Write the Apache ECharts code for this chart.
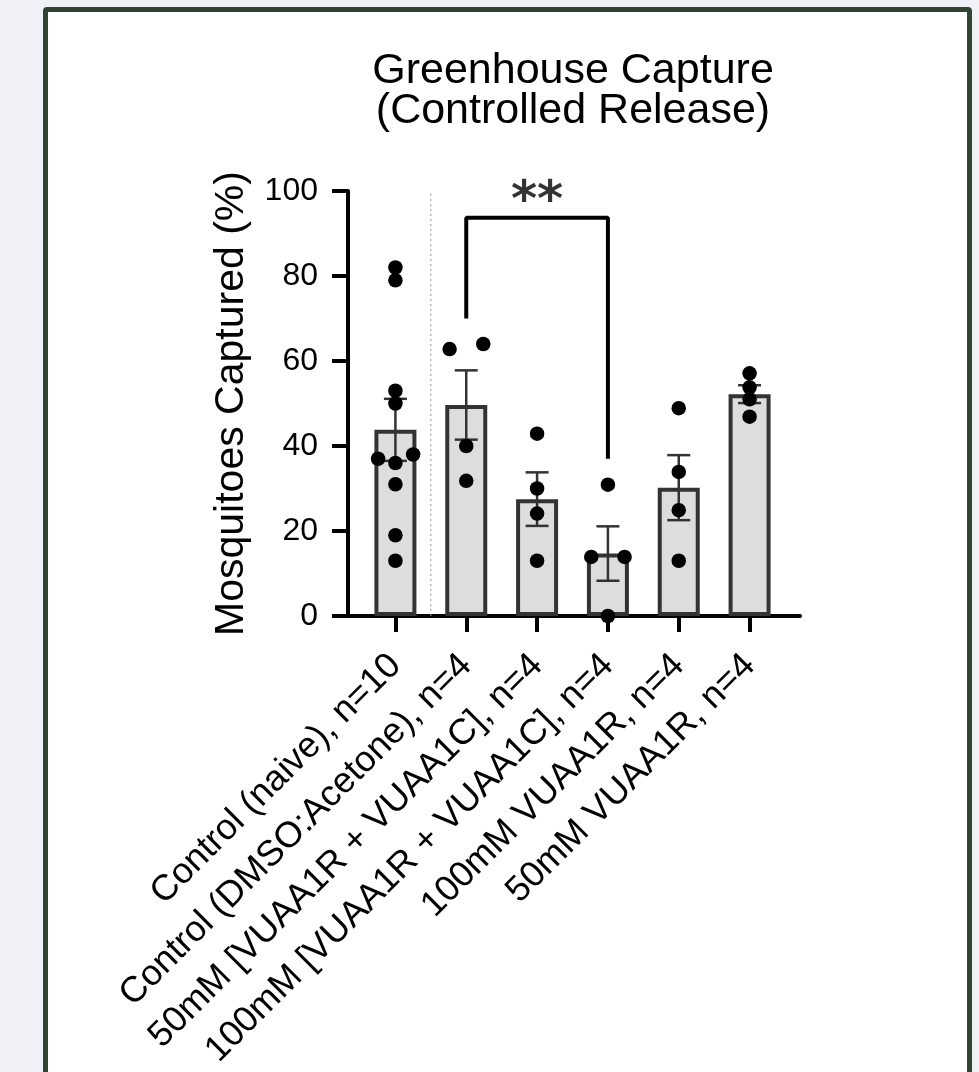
<!DOCTYPE html>
<html>
<head>
<meta charset="utf-8">
<script src="https://cdn.jsdelivr.net/npm/echarts@6/dist/echarts.min.js"></script>
<style>
html,body{margin:0;padding:0;width:979px;height:1072px;overflow:hidden;background:#eff1f6;}
#frame{position:absolute;left:43px;top:7px;width:929px;height:1200px;box-sizing:border-box;border:5px solid #2f4532;border-radius:4px;background:#ffffff;}
#chart{position:absolute;left:0;top:0;width:979px;height:1072px;}
</style>
</head>
<body>
<div id="frame"></div>
<div id="chart"></div>
<script>
// ---- data ----
const categories = [
  'Control (naive), n=10',
  'Control (DMSO:Acetone), n=4',
  '50mM [VUAA1R + VUAA1C], n=4',
  '100mM [VUAA1R + VUAA1C], n=4',
  '100mM VUAA1R, n=4',
  '50mM VUAA1R, n=4'
];
const means = [43.8, 49.65, 27.5, 14.7, 30.2, 52.2];
const sems = [7.3, 8.15, 6.3, 6.4, 7.65, 2.1];
const pointValues = [
  [82, 79, 53, 50, 37, 38, 36, 31, 19, 13],
  [62.8, 64, 40, 31.8],
  [42.9, 30, 24.1, 13],
  [30.9, 13.9, 13.9, 0],
  [48.9, 33.9, 24.9, 13],
  [57.1, 53.8, 51.0, 46.9]
];
const pointOffsets = [
  [0, 0, 0, 0, -0.245, 0.25, 0, 0, 0, 0],
  [-0.235, 0.24, 0, 0],
  [0, 0, 0, 0],
  [0, -0.235, 0.235, 0],
  [0, 0, 0, 0],
  [0, 0, 0, 0]
];
const yTicks = [0, 20, 40, 60, 80, 100];
const separatorAt = 0.5;
const sigFrom = 1, sigTo = 3, sigTop = 93.7, sigLeftEnd = 70, sigRightEnd = 37, sigLabel = '**';
const titleText = 'Greenhouse Capture\n(Controlled Release)';
const yName = 'Mosquitoes Captured (%)';

// ---- build ----
const FONT = 'Liberation Sans, Arial, Helvetica, sans-serif';
const scatterData = [];
pointValues.forEach((vals, i) => vals.forEach((v, j) => scatterData.push([i + pointOffsets[i][j], v])));
const errData = means.map((m, i) => [i, m - sems[i], m + sems[i]]);

const chart = echarts.init(document.getElementById('chart'), null, {renderer: 'canvas'});
chart.setOption({
  animation: false,
  backgroundColor: 'transparent',
  textStyle: {fontFamily: FONT},
  title: {
    text: titleText, left: 568, top: 46, textAlign: 'center',
    textStyle: {fontFamily: FONT, fontSize: 43, fontWeight: 'normal', color: '#000', lineHeight: 40}
  },
  grid: [
    {left: 360, top: 191, width: 425, height: 425},
    {left: 346, top: 191, width: 454, height: 425}
  ],
  xAxis: [
    {type: 'category', gridIndex: 0, data: categories, boundaryGap: true,
     axisLine: {show: false, onZero: false},
     axisTick: {show: true, alignWithLabel: true, length: 16, lineStyle: {color: '#000', width: 4}},
     axisLabel: {interval: 0, rotate: 45, fontSize: 36, color: '#000', margin: 44, fontFamily: FONT},
     splitLine: {show: false}},
    {type: 'value', gridIndex: 0, min: -0.5, max: 5.5, show: false},
    {type: 'value', gridIndex: 1, min: 0, max: 1,
     axisLine: {show: true, onZero: false, lineStyle: {color: '#000', width: 4}},
     axisTick: {show: false}, axisLabel: {show: false}, splitLine: {show: false}}
  ],
  yAxis: [
    {type: 'value', gridIndex: 0, min: yTicks[0], max: yTicks[yTicks.length - 1], interval: 20, offset: 12,
     name: yName, nameLocation: 'middle', nameGap: 96,
     nameTextStyle: {fontSize: 41, color: '#000', fontFamily: FONT},
     axisLine: {show: true, onZero: false, lineStyle: {color: '#000', width: 4}},
     axisTick: {show: true, length: 16, lineStyle: {color: '#000', width: 4}},
     axisLabel: {fontSize: 32, color: '#000', margin: 30, fontFamily: FONT},
     splitLine: {show: false}},
    {type: 'value', gridIndex: 1, min: 0, max: 1, show: false}
  ],
  series: [
    {type: 'line', xAxisIndex: 1, yAxisIndex: 0, data: [[separatorAt, yTicks[0]], [separatorAt, yTicks[yTicks.length - 1]]],
     symbol: 'none', silent: true, lineStyle: {color: '#9a9a9a', width: 1, type: [2, 3]}, z: 1},
    {type: 'bar', xAxisIndex: 0, yAxisIndex: 0, data: means, barWidth: 42,
     itemStyle: {color: '#dddddd', borderColor: '#333333', borderWidth: 4}, z: 2},
    {type: 'custom', xAxisIndex: 1, yAxisIndex: 0, data: errData, z: 3,
     renderItem: function (params, api) {
       const x = api.value(0);
       const lo = api.coord([x, api.value(1)]);
       const hi = api.coord([x, api.value(2)]);
       const hw = 11.5;
       const st = {stroke: '#333333', lineWidth: 2.5};
       return {type: 'group', children: [
         {type: 'line', shape: {x1: hi[0], y1: hi[1], x2: lo[0], y2: lo[1]}, style: st},
         {type: 'line', shape: {x1: hi[0] - hw, y1: hi[1], x2: hi[0] + hw, y2: hi[1]}, style: st},
         {type: 'line', shape: {x1: lo[0] - hw, y1: lo[1], x2: lo[0] + hw, y2: lo[1]}, style: st}
       ]};
     }},
    {type: 'scatter', xAxisIndex: 1, yAxisIndex: 0, data: scatterData, symbol: 'circle', symbolSize: 14.5,
     itemStyle: {color: '#000', opacity: 1}, z: 4},
    {type: 'line', xAxisIndex: 1, yAxisIndex: 0,
     data: [[sigFrom, sigLeftEnd], [sigFrom, sigTop], [sigTo, sigTop], [sigTo, sigRightEnd]],
     symbol: 'none', lineStyle: {color: '#000', width: 4}, z: 5},
    {type: 'scatter', xAxisIndex: 1, yAxisIndex: 0, data: [[(sigFrom + sigTo) / 2, sigTop]], symbolSize: 0,
     label: {show: true, position: 'top', distance: -10, formatter: sigLabel, fontSize: 50, fontWeight: 'bold', color: '#000', fontFamily: 'DejaVu Sans'}, z: 5}
  ]
});
</script>
</body>
</html>
